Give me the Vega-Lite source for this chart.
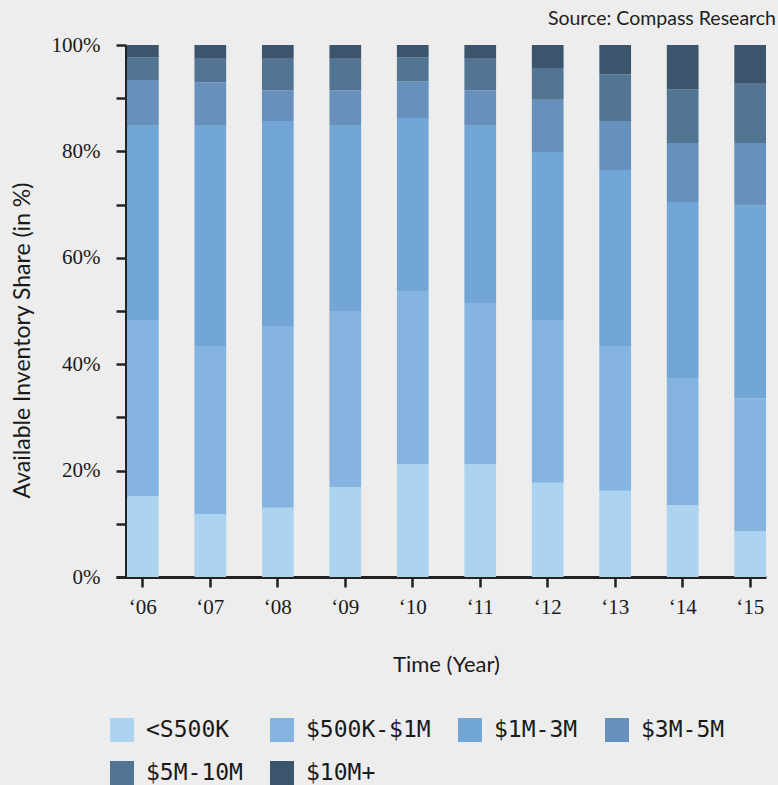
{
  "$schema": "https://vega.github.io/schema/vega-lite/v6.json",
  "autosize": "none",
  "width": 650,
  "height": 532,
  "padding": {"left": 116, "top": 45, "right": 12, "bottom": 208},
  "background": "#ededed",
  "title": {
    "text": "Source: Compass Research",
    "anchor": "end",
    "frame": "group",
    "font": "Lato",
    "fontSize": 19.5,
    "fontWeight": "normal",
    "color": "#222222",
    "dx": 10,
    "offset": 5
  },
  "data": {
    "values": [
      {"year": "‘06", "tier": "<S500K", "k": 1, "share": 15.2},
      {"year": "‘06", "tier": "$500K-$1M", "k": 2, "share": 33.1},
      {"year": "‘06", "tier": "$1M-3M", "k": 3, "share": 36.5},
      {"year": "‘06", "tier": "$3M-5M", "k": 4, "share": 8.6},
      {"year": "‘06", "tier": "$5M-10M", "k": 5, "share": 4.3},
      {"year": "‘06", "tier": "$10M+", "k": 6, "share": 2.3},
      {"year": "‘07", "tier": "<S500K", "k": 1, "share": 11.8},
      {"year": "‘07", "tier": "$500K-$1M", "k": 2, "share": 31.6},
      {"year": "‘07", "tier": "$1M-3M", "k": 3, "share": 41.4},
      {"year": "‘07", "tier": "$3M-5M", "k": 4, "share": 8.2},
      {"year": "‘07", "tier": "$5M-10M", "k": 5, "share": 4.4},
      {"year": "‘07", "tier": "$10M+", "k": 6, "share": 2.6},
      {"year": "‘08", "tier": "<S500K", "k": 1, "share": 13.0},
      {"year": "‘08", "tier": "$500K-$1M", "k": 2, "share": 34.2},
      {"year": "‘08", "tier": "$1M-3M", "k": 3, "share": 38.5},
      {"year": "‘08", "tier": "$3M-5M", "k": 4, "share": 5.8},
      {"year": "‘08", "tier": "$5M-10M", "k": 5, "share": 5.9},
      {"year": "‘08", "tier": "$10M+", "k": 6, "share": 2.6},
      {"year": "‘09", "tier": "<S500K", "k": 1, "share": 16.9},
      {"year": "‘09", "tier": "$500K-$1M", "k": 2, "share": 33.1},
      {"year": "‘09", "tier": "$1M-3M", "k": 3, "share": 34.8},
      {"year": "‘09", "tier": "$3M-5M", "k": 4, "share": 6.7},
      {"year": "‘09", "tier": "$5M-10M", "k": 5, "share": 5.9},
      {"year": "‘09", "tier": "$10M+", "k": 6, "share": 2.6},
      {"year": "‘10", "tier": "<S500K", "k": 1, "share": 21.2},
      {"year": "‘10", "tier": "$500K-$1M", "k": 2, "share": 32.4},
      {"year": "‘10", "tier": "$1M-3M", "k": 3, "share": 32.7},
      {"year": "‘10", "tier": "$3M-5M", "k": 4, "share": 6.9},
      {"year": "‘10", "tier": "$5M-10M", "k": 5, "share": 4.5},
      {"year": "‘10", "tier": "$10M+", "k": 6, "share": 2.3},
      {"year": "‘11", "tier": "<S500K", "k": 1, "share": 21.2},
      {"year": "‘11", "tier": "$500K-$1M", "k": 2, "share": 30.3},
      {"year": "‘11", "tier": "$1M-3M", "k": 3, "share": 33.3},
      {"year": "‘11", "tier": "$3M-5M", "k": 4, "share": 6.7},
      {"year": "‘11", "tier": "$5M-10M", "k": 5, "share": 5.9},
      {"year": "‘11", "tier": "$10M+", "k": 6, "share": 2.6},
      {"year": "‘12", "tier": "<S500K", "k": 1, "share": 17.7},
      {"year": "‘12", "tier": "$500K-$1M", "k": 2, "share": 30.6},
      {"year": "‘12", "tier": "$1M-3M", "k": 3, "share": 31.6},
      {"year": "‘12", "tier": "$3M-5M", "k": 4, "share": 9.8},
      {"year": "‘12", "tier": "$5M-10M", "k": 5, "share": 6.0},
      {"year": "‘12", "tier": "$10M+", "k": 6, "share": 4.3},
      {"year": "‘13", "tier": "<S500K", "k": 1, "share": 16.2},
      {"year": "‘13", "tier": "$500K-$1M", "k": 2, "share": 27.2},
      {"year": "‘13", "tier": "$1M-3M", "k": 3, "share": 33.1},
      {"year": "‘13", "tier": "$3M-5M", "k": 4, "share": 9.2},
      {"year": "‘13", "tier": "$5M-10M", "k": 5, "share": 8.8},
      {"year": "‘13", "tier": "$10M+", "k": 6, "share": 5.5},
      {"year": "‘14", "tier": "<S500K", "k": 1, "share": 13.5},
      {"year": "‘14", "tier": "$500K-$1M", "k": 2, "share": 23.9},
      {"year": "‘14", "tier": "$1M-3M", "k": 3, "share": 33.1},
      {"year": "‘14", "tier": "$3M-5M", "k": 4, "share": 11.1},
      {"year": "‘14", "tier": "$5M-10M", "k": 5, "share": 10.1},
      {"year": "‘14", "tier": "$10M+", "k": 6, "share": 8.3},
      {"year": "‘15", "tier": "<S500K", "k": 1, "share": 8.6},
      {"year": "‘15", "tier": "$500K-$1M", "k": 2, "share": 25.0},
      {"year": "‘15", "tier": "$1M-3M", "k": 3, "share": 36.3},
      {"year": "‘15", "tier": "$3M-5M", "k": 4, "share": 11.7},
      {"year": "‘15", "tier": "$5M-10M", "k": 5, "share": 11.1},
      {"year": "‘15", "tier": "$10M+", "k": 6, "share": 7.3}
    ]
  },
  "mark": {"type": "bar"},
  "encoding": {
    "x": {
      "field": "year",
      "type": "ordinal",
      "sort": null,
      "scale": {"paddingInner": 0.53, "paddingOuter": 0.0815, "align": 1},
      "axis": {
        "title": "Time (Year)",
        "labelAngle": 0,
        "labelFont": "Liberation Sans Narrow",
        "labelFontSize": 21,
        "labelColor": "#1a1a1a",
        "labelPadding": 9,
        "domainColor": "#222222",
        "domainWidth": 3,
        "tickColor": "#222222",
        "tickWidth": 2.5,
        "tickSize": 10,
        "titleFont": "Lato",
        "titleFontSize": 22,
        "titleFontWeight": "normal",
        "titleColor": "#1a1a1a",
        "titlePadding": 37,
        "titleX": 330
      }
    },
    "y": {
      "field": "share",
      "type": "quantitative",
      "stack": "zero",
      "scale": {"domain": [0, 100], "nice": false},
      "axis": {
        "title": "Available Inventory Share (in %)",
        "offset": -10,
        "values": [0, 10, 20, 30, 40, 50, 60, 70, 80, 90, 100],
        "labelExpr": "datum.value % 20 == 0 ? datum.value + '%' : ''",
        "labelFont": "Liberation Sans Narrow",
        "labelFontSize": 21,
        "labelColor": "#1a1a1a",
        "labelPadding": 16,
        "grid": false,
        "domainColor": "#222222",
        "domainWidth": 3,
        "tickColor": "#222222",
        "tickWidth": 2.5,
        "tickSize": 10,
        "titleFont": "Lato",
        "titleFontSize": 23,
        "titleFontWeight": "normal",
        "titleColor": "#1a1a1a",
        "titleAngle": -90,
        "titleAlign": "center",
        "titleBaseline": "middle",
        "titleX": -104,
        "titleY": 295
      }
    },
    "color": {
      "field": "tier",
      "type": "nominal",
      "sort": ["<S500K", "$500K-$1M", "$1M-3M", "$3M-5M", "$5M-10M", "$10M+"],
      "scale": {
        "domain": ["<S500K", "$500K-$1M", "$1M-3M", "$3M-5M", "$5M-10M", "$10M+"],
        "range": ["#acd3f0", "#86b4e0", "#72a6d6", "#6791bc", "#527593", "#3b556d"]
      },
      "legend": {
        "title": null,
        "orient": "none",
        "legendX": -6,
        "legendY": 673,
        "direction": "horizontal",
        "columns": 4,
        "gridAlign": "each",
        "symbolType": "square",
        "symbolSize": 576,
        "symbolStrokeWidth": 0,
        "labelFont": "DejaVu Sans Mono",
        "labelFontSize": 23,
        "labelColor": "#1a1a1a",
        "labelOffset": 12,
        "columnPadding": 27,
        "rowPadding": 19,
        "labelLimit": 300
      }
    },
    "order": {"field": "k", "type": "quantitative"}
  },
  "config": {
    "view": {"stroke": null},
    "bar": {"stroke": null}
  }
}
